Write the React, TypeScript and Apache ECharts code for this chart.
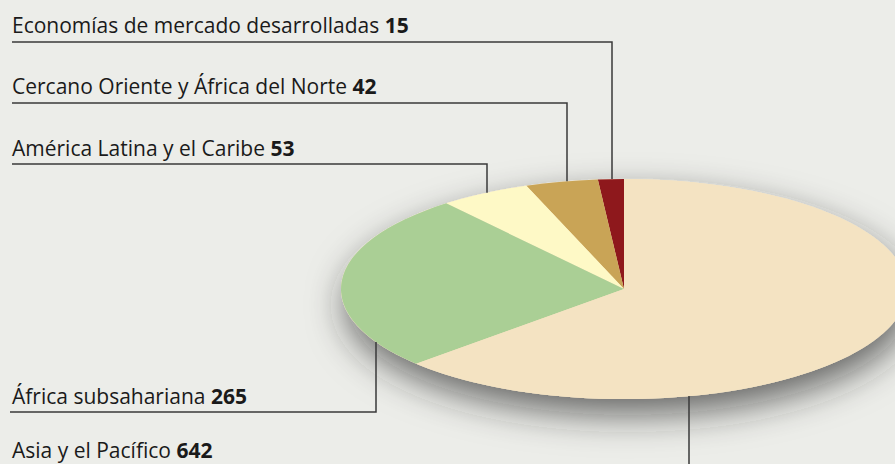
import React, { useEffect, useRef } from "react";
import * as echarts from "echarts";

const categories = [
  "Economías de mercado desarrolladas",
  "Cercano Oriente y África del Norte",
  "América Latina y el Caribe",
  "África subsahariana",
  "Asia y el Pacífico",
];
const values = [15, 42, 53, 265, 642];
const colors = ["#8e181c", "#c9a456", "#fef9c6", "#aacf95", "#f4e3c2"];

// layout (pixels)
const CX = 624;
const CY = 289;
const RX = 283;
const RY = 110;
const labelLayout = [
  { textY: 25, lineY: 42, lineX: 612, x0: 12, dir: "up" },
  { textY: 86, lineY: 103, lineX: 567, x0: 12, dir: "up" },
  { textY: 148, lineY: 164, lineX: 487, x0: 12, dir: "up" },
  { textY: 396, lineY: 412, lineX: 376, x0: 10, dir: "down" },
  { textY: 450, lineY: 470, lineX: 689, x0: 10, dir: "down" },
];

const FONT = "'Open Sans', 'Noto Sans', sans-serif";
const LINE_COLOR = "#3a3a3a";

export default function App() {
  const ref = useRef<HTMLDivElement>(null);
  useEffect(() => {
    if (!ref.current) return;
    const chart = echarts.init(ref.current, undefined, { renderer: "svg" });
    const total = values.reduce((a, b) => a + b, 0);
    const k = (Math.PI * 2) / total;

    const graphics: any[] = [];
    categories.forEach((name, i) => {
      const L = labelLayout[i];
      const dx = (L.lineX - CX) / RX;
      const h = RY * Math.sqrt(Math.max(0, 1 - dx * dx));
      const edgeY = L.dir === "up" ? CY - h : CY + h;
      graphics.push({
        type: "text",
        x: 12,
        y: L.textY,
        z: 10,
        style: {
          text: `{n|${name} }{v|${values[i]}}`,
          verticalAlign: "middle",
          rich: {
            n: { fontSize: 21, fontFamily: FONT, fill: "#1a1a1a" },
            v: { fontSize: 21, fontFamily: FONT, fontWeight: "bold", fill: "#1a1a1a" },
          },
        },
      });
      graphics.push({
        type: "polyline",
        z: 10,
        shape: {
          points: [
            [L.x0, L.lineY],
            [L.lineX, L.lineY],
            [L.lineX, edgeY],
          ],
        },
        style: { stroke: LINE_COLOR, lineWidth: 1.5, fill: null },
      });
    });

    chart.setOption({
      animation: false,
      backgroundColor: "#ecede9",
      graphic: graphics,
      series: [
        {
          type: "custom",
          coordinateSystem: "none",
          data: values.map((v) => [v]),
          renderItem: (params: any, api: any) => {
            const i = params.dataIndex;
            let before = 0;
            for (let j = 0; j < i; j++) before += values[j];
            const v = api.value(0);
            const end = -Math.PI / 2 - before * k;
            const start = end - v * k;
            const children: any[] = [];
            if (i === 0) {
              children.push({
                type: "ellipse",
                shape: { cx: CX, cy: CY, rx: RX, ry: RY },
                style: {
                  fill: colors[4],
                  shadowBlur: 36,
                  shadowColor: "rgba(40,40,40,0.65)",
                  shadowOffsetX: 4,
                  shadowOffsetY: 16,
                },
              });
            }
            children.push({
              type: "sector",
              x: CX,
              y: CY,
              scaleX: 1,
              scaleY: RY / RX,
              shape: { cx: 0, cy: 0, r0: 0, r: RX, startAngle: start, endAngle: end, clockwise: true },
              style: { fill: colors[i] },
            });
            return { type: "group", children };
          },
        },
      ],
    });
    return () => chart.dispose();
  }, []);
  return (
    <div
      ref={ref}
      style={{ position: "fixed", left: 0, top: 0, width: 895, height: 464 }}
    />
  );
}
